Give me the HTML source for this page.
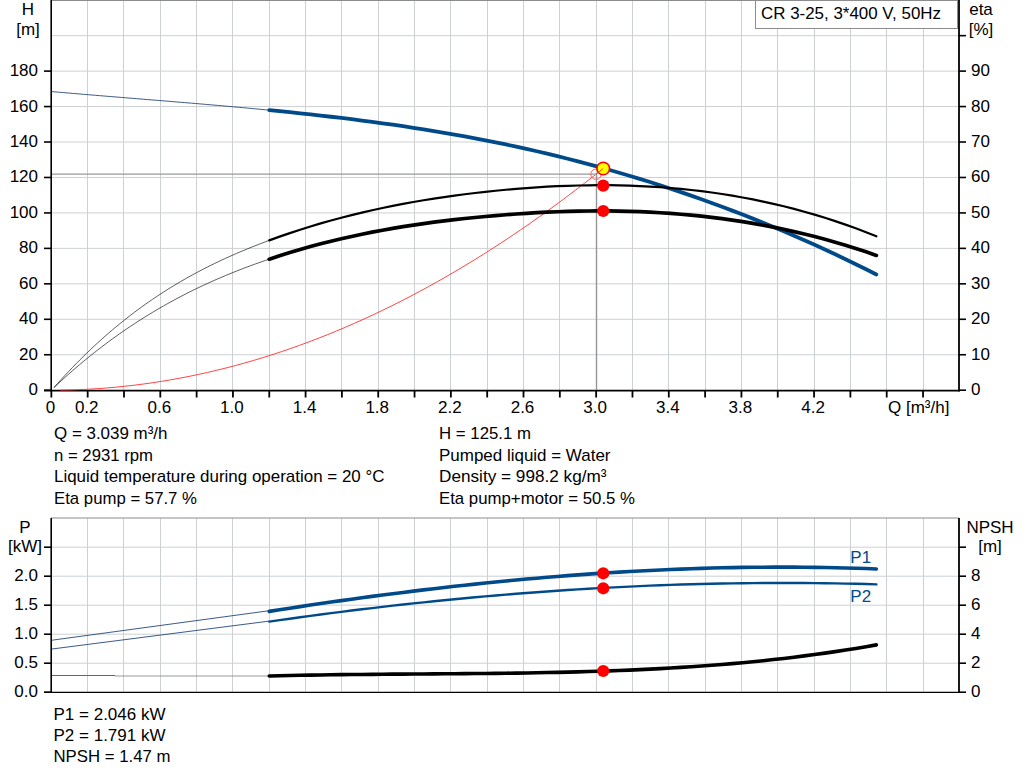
<!DOCTYPE html>
<html><head><meta charset="utf-8"><style>
html,body{margin:0;padding:0;background:#fff;width:1024px;height:781px;overflow:hidden}
svg{display:block;font-family:"Liberation Sans", sans-serif}
</style></head><body>
<svg width="1024" height="781" viewBox="0 0 1024 781">
<line x1="87.5" y1="0" x2="87.5" y2="390" stroke="#cdd1d4" stroke-width="1"/>
<line x1="123.5" y1="0" x2="123.5" y2="390" stroke="#cdd1d4" stroke-width="1"/>
<line x1="160.5" y1="0" x2="160.5" y2="390" stroke="#cdd1d4" stroke-width="1"/>
<line x1="196.5" y1="0" x2="196.5" y2="390" stroke="#cdd1d4" stroke-width="1"/>
<line x1="232.5" y1="0" x2="232.5" y2="390" stroke="#cdd1d4" stroke-width="1"/>
<line x1="269.5" y1="0" x2="269.5" y2="390" stroke="#cdd1d4" stroke-width="1"/>
<line x1="305.5" y1="0" x2="305.5" y2="390" stroke="#cdd1d4" stroke-width="1"/>
<line x1="341.5" y1="0" x2="341.5" y2="390" stroke="#cdd1d4" stroke-width="1"/>
<line x1="378.5" y1="0" x2="378.5" y2="390" stroke="#cdd1d4" stroke-width="1"/>
<line x1="414.5" y1="0" x2="414.5" y2="390" stroke="#cdd1d4" stroke-width="1"/>
<line x1="450.5" y1="0" x2="450.5" y2="390" stroke="#cdd1d4" stroke-width="1"/>
<line x1="487.5" y1="0" x2="487.5" y2="390" stroke="#cdd1d4" stroke-width="1"/>
<line x1="523.5" y1="0" x2="523.5" y2="390" stroke="#cdd1d4" stroke-width="1"/>
<line x1="559.5" y1="0" x2="559.5" y2="390" stroke="#cdd1d4" stroke-width="1"/>
<line x1="596.5" y1="0" x2="596.5" y2="390" stroke="#cdd1d4" stroke-width="1"/>
<line x1="632.5" y1="0" x2="632.5" y2="390" stroke="#cdd1d4" stroke-width="1"/>
<line x1="668.5" y1="0" x2="668.5" y2="390" stroke="#cdd1d4" stroke-width="1"/>
<line x1="705.5" y1="0" x2="705.5" y2="390" stroke="#cdd1d4" stroke-width="1"/>
<line x1="741.5" y1="0" x2="741.5" y2="390" stroke="#cdd1d4" stroke-width="1"/>
<line x1="777.5" y1="0" x2="777.5" y2="390" stroke="#cdd1d4" stroke-width="1"/>
<line x1="814.5" y1="0" x2="814.5" y2="390" stroke="#cdd1d4" stroke-width="1"/>
<line x1="850.5" y1="0" x2="850.5" y2="390" stroke="#cdd1d4" stroke-width="1"/>
<line x1="886.5" y1="0" x2="886.5" y2="390" stroke="#cdd1d4" stroke-width="1"/>
<line x1="923.5" y1="0" x2="923.5" y2="390" stroke="#cdd1d4" stroke-width="1"/>
<line x1="51" y1="354.75" x2="958" y2="354.75" stroke="#cdd1d4" stroke-width="1"/>
<line x1="51" y1="319.29" x2="958" y2="319.29" stroke="#cdd1d4" stroke-width="1"/>
<line x1="51" y1="283.84" x2="958" y2="283.84" stroke="#cdd1d4" stroke-width="1"/>
<line x1="51" y1="248.38" x2="958" y2="248.38" stroke="#cdd1d4" stroke-width="1"/>
<line x1="51" y1="212.93" x2="958" y2="212.93" stroke="#cdd1d4" stroke-width="1"/>
<line x1="51" y1="177.47" x2="958" y2="177.47" stroke="#cdd1d4" stroke-width="1"/>
<line x1="51" y1="142.02" x2="958" y2="142.02" stroke="#cdd1d4" stroke-width="1"/>
<line x1="51" y1="106.56" x2="958" y2="106.56" stroke="#cdd1d4" stroke-width="1"/>
<line x1="51" y1="71.11" x2="958" y2="71.11" stroke="#cdd1d4" stroke-width="1"/>
<line x1="51" y1="35.65" x2="958" y2="35.65" stroke="#cdd1d4" stroke-width="1"/>
<line x1="87.5" y1="518" x2="87.5" y2="692" stroke="#cdd1d4" stroke-width="1"/>
<line x1="123.5" y1="518" x2="123.5" y2="692" stroke="#cdd1d4" stroke-width="1"/>
<line x1="160.5" y1="518" x2="160.5" y2="692" stroke="#cdd1d4" stroke-width="1"/>
<line x1="196.5" y1="518" x2="196.5" y2="692" stroke="#cdd1d4" stroke-width="1"/>
<line x1="232.5" y1="518" x2="232.5" y2="692" stroke="#cdd1d4" stroke-width="1"/>
<line x1="269.5" y1="518" x2="269.5" y2="692" stroke="#cdd1d4" stroke-width="1"/>
<line x1="305.5" y1="518" x2="305.5" y2="692" stroke="#cdd1d4" stroke-width="1"/>
<line x1="341.5" y1="518" x2="341.5" y2="692" stroke="#cdd1d4" stroke-width="1"/>
<line x1="378.5" y1="518" x2="378.5" y2="692" stroke="#cdd1d4" stroke-width="1"/>
<line x1="414.5" y1="518" x2="414.5" y2="692" stroke="#cdd1d4" stroke-width="1"/>
<line x1="450.5" y1="518" x2="450.5" y2="692" stroke="#cdd1d4" stroke-width="1"/>
<line x1="487.5" y1="518" x2="487.5" y2="692" stroke="#cdd1d4" stroke-width="1"/>
<line x1="523.5" y1="518" x2="523.5" y2="692" stroke="#cdd1d4" stroke-width="1"/>
<line x1="559.5" y1="518" x2="559.5" y2="692" stroke="#cdd1d4" stroke-width="1"/>
<line x1="596.5" y1="518" x2="596.5" y2="692" stroke="#cdd1d4" stroke-width="1"/>
<line x1="632.5" y1="518" x2="632.5" y2="692" stroke="#cdd1d4" stroke-width="1"/>
<line x1="668.5" y1="518" x2="668.5" y2="692" stroke="#cdd1d4" stroke-width="1"/>
<line x1="705.5" y1="518" x2="705.5" y2="692" stroke="#cdd1d4" stroke-width="1"/>
<line x1="741.5" y1="518" x2="741.5" y2="692" stroke="#cdd1d4" stroke-width="1"/>
<line x1="777.5" y1="518" x2="777.5" y2="692" stroke="#cdd1d4" stroke-width="1"/>
<line x1="814.5" y1="518" x2="814.5" y2="692" stroke="#cdd1d4" stroke-width="1"/>
<line x1="850.5" y1="518" x2="850.5" y2="692" stroke="#cdd1d4" stroke-width="1"/>
<line x1="886.5" y1="518" x2="886.5" y2="692" stroke="#cdd1d4" stroke-width="1"/>
<line x1="923.5" y1="518" x2="923.5" y2="692" stroke="#cdd1d4" stroke-width="1"/>
<line x1="51" y1="663.20" x2="958" y2="663.20" stroke="#cdd1d4" stroke-width="1"/>
<line x1="51" y1="634.20" x2="958" y2="634.20" stroke="#cdd1d4" stroke-width="1"/>
<line x1="51" y1="605.20" x2="958" y2="605.20" stroke="#cdd1d4" stroke-width="1"/>
<line x1="51" y1="576.20" x2="958" y2="576.20" stroke="#cdd1d4" stroke-width="1"/>
<line x1="51" y1="547.20" x2="958" y2="547.20" stroke="#cdd1d4" stroke-width="1"/>
<line x1="51" y1="0.5" x2="959" y2="0.5" stroke="#8c8c8c" stroke-width="1"/>
<line x1="51.2" y1="0" x2="51.2" y2="391.5" stroke="#000" stroke-width="1.6"/>
<line x1="959" y1="0" x2="959" y2="391.5" stroke="#000" stroke-width="1.8"/>
<line x1="44" y1="390.6" x2="959.8" y2="390.6" stroke="#000" stroke-width="1.8"/>
<line x1="44" y1="390.20" x2="51" y2="390.20" stroke="#000" stroke-width="1.6"/>
<line x1="959" y1="390.20" x2="966" y2="390.20" stroke="#000" stroke-width="1.6"/>
<line x1="44" y1="354.75" x2="51" y2="354.75" stroke="#000" stroke-width="1.6"/>
<line x1="959" y1="354.75" x2="966" y2="354.75" stroke="#000" stroke-width="1.6"/>
<line x1="44" y1="319.29" x2="51" y2="319.29" stroke="#000" stroke-width="1.6"/>
<line x1="959" y1="319.29" x2="966" y2="319.29" stroke="#000" stroke-width="1.6"/>
<line x1="44" y1="283.84" x2="51" y2="283.84" stroke="#000" stroke-width="1.6"/>
<line x1="959" y1="283.84" x2="966" y2="283.84" stroke="#000" stroke-width="1.6"/>
<line x1="44" y1="248.38" x2="51" y2="248.38" stroke="#000" stroke-width="1.6"/>
<line x1="959" y1="248.38" x2="966" y2="248.38" stroke="#000" stroke-width="1.6"/>
<line x1="44" y1="212.93" x2="51" y2="212.93" stroke="#000" stroke-width="1.6"/>
<line x1="959" y1="212.93" x2="966" y2="212.93" stroke="#000" stroke-width="1.6"/>
<line x1="44" y1="177.47" x2="51" y2="177.47" stroke="#000" stroke-width="1.6"/>
<line x1="959" y1="177.47" x2="966" y2="177.47" stroke="#000" stroke-width="1.6"/>
<line x1="44" y1="142.02" x2="51" y2="142.02" stroke="#000" stroke-width="1.6"/>
<line x1="959" y1="142.02" x2="966" y2="142.02" stroke="#000" stroke-width="1.6"/>
<line x1="44" y1="106.56" x2="51" y2="106.56" stroke="#000" stroke-width="1.6"/>
<line x1="959" y1="106.56" x2="966" y2="106.56" stroke="#000" stroke-width="1.6"/>
<line x1="44" y1="71.11" x2="51" y2="71.11" stroke="#000" stroke-width="1.6"/>
<line x1="959" y1="71.11" x2="966" y2="71.11" stroke="#000" stroke-width="1.6"/>
<line x1="959" y1="35.65" x2="966" y2="35.65" stroke="#000" stroke-width="1.6"/>
<line x1="51.35" y1="391" x2="51.35" y2="397.5" stroke="#000" stroke-width="1.8"/>
<line x1="87.67" y1="391" x2="87.67" y2="397.5" stroke="#000" stroke-width="1.8"/>
<line x1="123.99" y1="391" x2="123.99" y2="397.5" stroke="#000" stroke-width="1.8"/>
<line x1="160.31" y1="391" x2="160.31" y2="397.5" stroke="#000" stroke-width="1.8"/>
<line x1="196.63" y1="391" x2="196.63" y2="397.5" stroke="#000" stroke-width="1.8"/>
<line x1="232.95" y1="391" x2="232.95" y2="397.5" stroke="#000" stroke-width="1.8"/>
<line x1="269.27" y1="391" x2="269.27" y2="397.5" stroke="#000" stroke-width="1.8"/>
<line x1="305.59" y1="391" x2="305.59" y2="397.5" stroke="#000" stroke-width="1.8"/>
<line x1="341.91" y1="391" x2="341.91" y2="397.5" stroke="#000" stroke-width="1.8"/>
<line x1="378.23" y1="391" x2="378.23" y2="397.5" stroke="#000" stroke-width="1.8"/>
<line x1="414.55" y1="391" x2="414.55" y2="397.5" stroke="#000" stroke-width="1.8"/>
<line x1="450.87" y1="391" x2="450.87" y2="397.5" stroke="#000" stroke-width="1.8"/>
<line x1="487.19" y1="391" x2="487.19" y2="397.5" stroke="#000" stroke-width="1.8"/>
<line x1="523.51" y1="391" x2="523.51" y2="397.5" stroke="#000" stroke-width="1.8"/>
<line x1="559.83" y1="391" x2="559.83" y2="397.5" stroke="#000" stroke-width="1.8"/>
<line x1="596.15" y1="391" x2="596.15" y2="397.5" stroke="#000" stroke-width="1.8"/>
<line x1="632.47" y1="391" x2="632.47" y2="397.5" stroke="#000" stroke-width="1.8"/>
<line x1="668.79" y1="391" x2="668.79" y2="397.5" stroke="#000" stroke-width="1.8"/>
<line x1="705.11" y1="391" x2="705.11" y2="397.5" stroke="#000" stroke-width="1.8"/>
<line x1="741.43" y1="391" x2="741.43" y2="397.5" stroke="#000" stroke-width="1.8"/>
<line x1="777.75" y1="391" x2="777.75" y2="397.5" stroke="#000" stroke-width="1.8"/>
<line x1="814.07" y1="391" x2="814.07" y2="397.5" stroke="#000" stroke-width="1.8"/>
<line x1="850.39" y1="391" x2="850.39" y2="397.5" stroke="#000" stroke-width="1.8"/>
<line x1="886.71" y1="391" x2="886.71" y2="397.5" stroke="#000" stroke-width="1.8"/>
<line x1="923.03" y1="391" x2="923.03" y2="397.5" stroke="#000" stroke-width="1.8"/>
<line x1="51" y1="518" x2="959" y2="518" stroke="#8c8c8c" stroke-width="1"/>
<line x1="51.2" y1="518" x2="51.2" y2="692.5" stroke="#000" stroke-width="1.6"/>
<line x1="959" y1="518" x2="959" y2="692.5" stroke="#000" stroke-width="1.8"/>
<line x1="44" y1="692.4" x2="959.8" y2="692.4" stroke="#000" stroke-width="1.4"/>
<line x1="44" y1="692.20" x2="51" y2="692.20" stroke="#000" stroke-width="1.6"/>
<line x1="959" y1="692.20" x2="966" y2="692.20" stroke="#000" stroke-width="1.6"/>
<line x1="44" y1="663.20" x2="51" y2="663.20" stroke="#000" stroke-width="1.6"/>
<line x1="959" y1="663.20" x2="966" y2="663.20" stroke="#000" stroke-width="1.6"/>
<line x1="44" y1="634.20" x2="51" y2="634.20" stroke="#000" stroke-width="1.6"/>
<line x1="959" y1="634.20" x2="966" y2="634.20" stroke="#000" stroke-width="1.6"/>
<line x1="44" y1="605.20" x2="51" y2="605.20" stroke="#000" stroke-width="1.6"/>
<line x1="959" y1="605.20" x2="966" y2="605.20" stroke="#000" stroke-width="1.6"/>
<line x1="44" y1="576.20" x2="51" y2="576.20" stroke="#000" stroke-width="1.6"/>
<line x1="959" y1="576.20" x2="966" y2="576.20" stroke="#000" stroke-width="1.6"/>
<line x1="44" y1="547.20" x2="51" y2="547.20" stroke="#000" stroke-width="1.6"/>
<line x1="959" y1="547.20" x2="966" y2="547.20" stroke="#000" stroke-width="1.6"/>
<path d="M60.43,390.14 L69.63,389.96 L78.83,389.65 L88.03,389.22 L97.23,388.67 L106.43,387.99 L115.63,387.19 L124.83,386.27 L134.03,385.22 L143.23,384.05 L152.43,382.76 L161.63,381.34 L170.83,379.81 L180.03,378.14 L189.23,376.36 L198.43,374.45 L207.63,372.42 L216.83,370.26 L226.03,367.98 L235.23,365.58 L244.43,363.05 L253.63,360.41 L262.83,357.63 L272.03,354.74 L281.23,351.72 L290.43,348.58 L299.63,345.31 L308.83,341.93 L318.03,338.41 L327.23,334.78 L336.43,331.02 L345.63,327.14 L354.83,323.14 L364.03,319.01 L373.23,314.76 L382.43,310.38 L391.63,305.89 L400.83,301.27 L410.03,296.52 L419.23,291.65 L428.43,286.66 L437.63,281.55 L446.83,276.31 L456.03,270.95 L465.23,265.47 L474.43,259.86 L483.63,254.13 L492.83,248.28 L502.03,242.30 L511.23,236.20 L520.43,229.98 L529.63,223.63 L538.83,217.16 L548.03,210.57 L557.23,203.85 L566.43,197.01 L575.63,190.05 L584.83,182.97 L594.03,175.76 L603.23,168.42" fill="none" stroke="#ff3030" stroke-width="0.9"/>
<line x1="52" y1="174.2" x2="596" y2="174.2" stroke="#9a9a9a" stroke-width="1.3"/>
<line x1="596.5" y1="174" x2="596.5" y2="390" stroke="#959595" stroke-width="1.4"/>
<path d="M51.35,91.54 L55.04,91.87 L58.74,92.19 L62.43,92.51 L66.12,92.83 L69.82,93.15 L73.51,93.46 L77.20,93.78 L80.90,94.09 L84.59,94.40 L88.29,94.71 L91.98,95.02 L95.67,95.32 L99.37,95.63 L103.06,95.93 L106.75,96.24 L110.45,96.54 L114.14,96.84 L117.83,97.14 L121.53,97.44 L125.22,97.74 L128.91,98.04 L132.61,98.34 L136.30,98.64 L140.00,98.94 L143.69,99.24 L147.38,99.55 L151.08,99.85 L154.77,100.15 L158.46,100.45 L162.16,100.75 L165.85,101.05 L169.54,101.35 L173.24,101.66 L176.93,101.96 L180.62,102.27 L184.32,102.58 L188.01,102.88 L191.71,103.19 L195.40,103.50 L199.09,103.82 L202.79,104.13 L206.48,104.45 L210.17,104.76 L213.87,105.08 L217.56,105.40 L221.25,105.73 L224.95,106.05 L228.64,106.38 L232.33,106.71 L236.03,107.04 L239.72,107.38 L243.42,107.72 L247.11,108.06 L250.80,108.40 L254.50,108.75 L258.19,109.09 L261.88,109.45 L265.58,109.80 L269.27,110.16" fill="none" stroke="#1a3f73" stroke-width="1" opacity="0.85"/>
<path d="M269.27,110.16 L279.56,111.18 L289.85,112.23 L300.14,113.30 L310.43,114.41 L320.72,115.56 L331.01,116.74 L341.30,117.96 L351.59,119.22 L361.88,120.53 L372.17,121.88 L382.46,123.27 L392.75,124.72 L403.04,126.21 L413.32,127.77 L423.61,129.37 L433.90,131.03 L444.19,132.76 L454.48,134.54 L464.77,136.39 L475.06,138.31 L485.35,140.29 L495.64,142.34 L505.93,144.46 L516.22,146.66 L526.51,148.93 L536.80,151.27 L547.09,153.68 L557.38,156.17 L567.67,158.73 L577.96,161.37 L588.25,164.09 L598.54,166.89 L608.83,169.76 L619.12,172.71 L629.41,175.75 L639.70,178.86 L649.99,182.05 L660.28,185.33 L670.57,188.69 L680.86,192.13 L691.15,195.66 L701.43,199.27 L711.72,202.97 L722.01,206.76 L732.30,210.63 L742.59,214.59 L752.88,218.64 L763.17,222.78 L773.46,227.01 L783.75,231.33 L794.04,235.74 L804.33,240.24 L814.62,244.84 L824.91,249.53 L835.20,254.32 L845.49,259.20 L855.78,264.18 L866.07,269.26 L876.36,274.43" fill="none" stroke="#004a8a" stroke-width="3.8" stroke-linecap="round"/>
<path d="M54.07,387.48 L57.72,383.37 L61.37,379.33 L65.02,375.35 L68.66,371.46 L72.31,367.63 L75.96,363.87 L79.61,360.17 L83.25,356.55 L86.90,352.99 L90.55,349.50 L94.20,346.07 L97.84,342.71 L101.49,339.41 L105.14,336.17 L108.78,332.99 L112.43,329.87 L116.08,326.82 L119.73,323.82 L123.37,320.87 L127.02,317.99 L130.67,315.16 L134.32,312.39 L137.96,309.67 L141.61,307.00 L145.26,304.39 L148.91,301.82 L152.55,299.31 L156.20,296.85 L159.85,294.44 L163.50,292.07 L167.14,289.75 L170.79,287.48 L174.44,285.25 L178.09,283.07 L181.73,280.93 L185.38,278.84 L189.03,276.78 L192.67,274.77 L196.32,272.80 L199.97,270.86 L203.62,268.97 L207.26,267.11 L210.91,265.28 L214.56,263.50 L218.21,261.75 L221.85,260.03 L225.50,258.34 L229.15,256.69 L232.80,255.07 L236.44,253.48 L240.09,251.91 L243.74,250.38 L247.39,248.87 L251.03,247.40 L254.68,245.94 L258.33,244.51 L261.98,243.11 L265.62,241.73 L269.27,240.37" fill="none" stroke="#000" stroke-width="0.9" opacity="0.7"/>
<path d="M269.27,240.37 L279.56,236.65 L289.85,233.10 L300.14,229.71 L310.43,226.48 L320.72,223.41 L331.01,220.48 L341.30,217.71 L351.59,215.07 L361.88,212.57 L372.17,210.21 L382.46,207.97 L392.75,205.86 L403.04,203.87 L413.32,202.00 L423.61,200.25 L433.90,198.60 L444.19,197.05 L454.48,195.61 L464.77,194.27 L475.06,193.01 L485.35,191.85 L495.64,190.77 L505.93,189.77 L516.22,188.87 L526.51,188.06 L536.80,187.34 L547.09,186.72 L557.38,186.20 L567.67,185.79 L577.96,185.48 L588.25,185.28 L598.54,185.19 L608.83,185.22 L619.12,185.37 L629.41,185.64 L639.70,186.04 L649.99,186.56 L660.28,187.21 L670.57,188.00 L680.86,188.92 L691.15,189.98 L701.43,191.18 L711.72,192.53 L722.01,194.03 L732.30,195.68 L742.59,197.48 L752.88,199.44 L763.17,201.56 L773.46,203.84 L783.75,206.29 L794.04,208.90 L804.33,211.69 L814.62,214.66 L824.91,217.80 L835.20,221.12 L845.49,224.62 L855.78,228.31 L866.07,232.20 L876.36,236.27" fill="none" stroke="#000" stroke-width="2.2" stroke-linecap="round"/>
<path d="M54.07,387.44 L57.72,384.03 L61.37,380.67 L65.02,377.36 L68.66,374.11 L72.31,370.90 L75.96,367.75 L79.61,364.65 L83.25,361.60 L86.90,358.60 L90.55,355.64 L94.20,352.74 L97.84,349.88 L101.49,347.07 L105.14,344.31 L108.78,341.59 L112.43,338.91 L116.08,336.29 L119.73,333.70 L123.37,331.16 L127.02,328.66 L130.67,326.21 L134.32,323.80 L137.96,321.43 L141.61,319.10 L145.26,316.81 L148.91,314.56 L152.55,312.35 L156.20,310.18 L159.85,308.04 L163.50,305.95 L167.14,303.89 L170.79,301.87 L174.44,299.88 L178.09,297.93 L181.73,296.02 L185.38,294.14 L189.03,292.29 L192.67,290.48 L196.32,288.70 L199.97,286.95 L203.62,285.23 L207.26,283.55 L210.91,281.89 L214.56,280.27 L218.21,278.68 L221.85,277.11 L225.50,275.57 L229.15,274.06 L232.80,272.58 L236.44,271.12 L240.09,269.69 L243.74,268.29 L247.39,266.91 L251.03,265.56 L254.68,264.23 L258.33,262.92 L261.98,261.64 L265.62,260.38 L269.27,259.14" fill="none" stroke="#000" stroke-width="0.9" opacity="0.7"/>
<path d="M269.27,259.14 L279.56,255.76 L289.85,252.54 L300.14,249.48 L310.43,246.58 L320.72,243.83 L331.01,241.23 L341.30,238.76 L351.59,236.44 L361.88,234.24 L372.17,232.18 L382.46,230.23 L392.75,228.40 L403.04,226.69 L413.32,225.09 L423.61,223.58 L433.90,222.18 L444.19,220.87 L454.48,219.66 L464.77,218.52 L475.06,217.47 L485.35,216.49 L495.64,215.59 L505.93,214.75 L516.22,213.99 L526.51,213.31 L536.80,212.71 L547.09,212.19 L557.38,211.76 L567.67,211.42 L577.96,211.16 L588.25,211.00 L598.54,210.94 L608.83,210.97 L619.12,211.11 L629.41,211.35 L639.70,211.70 L649.99,212.16 L660.28,212.73 L670.57,213.41 L680.86,214.22 L691.15,215.14 L701.43,216.18 L711.72,217.36 L722.01,218.66 L732.30,220.09 L742.59,221.65 L752.88,223.35 L763.17,225.20 L773.46,227.18 L783.75,229.30 L794.04,231.58 L804.33,234.00 L814.62,236.58 L824.91,239.31 L835.20,242.20 L845.49,245.25 L855.78,248.46 L866.07,251.84 L876.36,255.39" fill="none" stroke="#000" stroke-width="3.7" stroke-linecap="round"/>
<line x1="52" y1="640.2" x2="269.27" y2="610.7" stroke="#1a3f73" stroke-width="1" opacity="0.85"/>
<line x1="52" y1="649" x2="269.27" y2="621.1" stroke="#1a3f73" stroke-width="1" opacity="0.85"/>
<line x1="52" y1="675.5" x2="115" y2="675.5" stroke="#666" stroke-width="1"/>
<line x1="115" y1="676" x2="269.27" y2="676" stroke="#999" stroke-width="1.2"/>
<path d="M269.27,611.37 L279.56,609.76 L289.85,608.18 L300.14,606.62 L310.43,605.09 L320.72,603.58 L331.01,602.09 L341.30,600.63 L351.59,599.19 L361.88,597.78 L372.17,596.40 L382.46,595.05 L392.75,593.72 L403.04,592.42 L413.32,591.14 L423.61,589.90 L433.90,588.68 L444.19,587.49 L454.48,586.33 L464.77,585.20 L475.06,584.11 L485.35,583.04 L495.64,582.00 L505.93,581.00 L516.22,580.02 L526.51,579.08 L536.80,578.17 L547.09,577.30 L557.38,576.45 L567.67,575.65 L577.96,574.87 L588.25,574.13 L598.54,573.42 L608.83,572.75 L619.12,572.12 L629.41,571.52 L639.70,570.96 L649.99,570.43 L660.28,569.94 L670.57,569.49 L680.86,569.08 L691.15,568.70 L701.43,568.37 L711.72,568.07 L722.01,567.81 L732.30,567.59 L742.59,567.42 L752.88,567.28 L763.17,567.18 L773.46,567.13 L783.75,567.12 L794.04,567.15 L804.33,567.22 L814.62,567.33 L824.91,567.49 L835.20,567.69 L845.49,567.94 L855.78,568.23 L866.07,568.56 L876.36,568.94" fill="none" stroke="#004a8a" stroke-width="3.6" stroke-linecap="round"/>
<path d="M269.27,621.61 L279.56,620.13 L289.85,618.69 L300.14,617.27 L310.43,615.87 L320.72,614.50 L331.01,613.16 L341.30,611.85 L351.59,610.56 L361.88,609.30 L372.17,608.07 L382.46,606.86 L392.75,605.68 L403.04,604.53 L413.32,603.41 L423.61,602.32 L433.90,601.25 L444.19,600.21 L454.48,599.20 L464.77,598.22 L475.06,597.27 L485.35,596.35 L495.64,595.46 L505.93,594.60 L516.22,593.76 L526.51,592.96 L536.80,592.18 L547.09,591.44 L557.38,590.72 L567.67,590.04 L577.96,589.39 L588.25,588.76 L598.54,588.17 L608.83,587.61 L619.12,587.08 L629.41,586.58 L639.70,586.11 L649.99,585.67 L660.28,585.27 L670.57,584.90 L680.86,584.56 L691.15,584.25 L701.43,583.97 L711.72,583.73 L722.01,583.51 L732.30,583.34 L742.59,583.19 L752.88,583.08 L763.17,583.00 L773.46,582.95 L783.75,582.94 L794.04,582.96 L804.33,583.02 L814.62,583.10 L824.91,583.23 L835.20,583.39 L845.49,583.58 L855.78,583.80 L866.07,584.07 L876.36,584.36" fill="none" stroke="#004a8a" stroke-width="2.4" stroke-linecap="round"/>
<path d="M269.27,676.04 L279.56,675.78 L289.85,675.54 L300.14,675.32 L310.43,675.13 L320.72,674.95 L331.01,674.80 L341.30,674.66 L351.59,674.54 L361.88,674.43 L372.17,674.33 L382.46,674.24 L392.75,674.15 L403.04,674.08 L413.32,674.00 L423.61,673.93 L433.90,673.86 L444.19,673.79 L454.48,673.71 L464.77,673.63 L475.06,673.54 L485.35,673.44 L495.64,673.34 L505.93,673.21 L516.22,673.08 L526.51,672.93 L536.80,672.75 L547.09,672.56 L557.38,672.35 L567.67,672.11 L577.96,671.85 L588.25,671.56 L598.54,671.24 L608.83,670.89 L619.12,670.51 L629.41,670.10 L639.70,669.64 L649.99,669.15 L660.28,668.62 L670.57,668.04 L680.86,667.42 L691.15,666.76 L701.43,666.05 L711.72,665.29 L722.01,664.47 L732.30,663.61 L742.59,662.69 L752.88,661.71 L763.17,660.67 L773.46,659.58 L783.75,658.42 L794.04,657.20 L804.33,655.91 L814.62,654.55 L824.91,653.12 L835.20,651.63 L845.49,650.06 L855.78,648.41 L866.07,646.69 L876.36,644.88" fill="none" stroke="#000" stroke-width="3.6" stroke-linecap="round"/>
<circle cx="596" cy="174.2" r="5.2" fill="none" stroke="#ff5050" stroke-width="0.9"/>
<circle cx="603.23" cy="168.5" r="6.3" fill="#ffff00" stroke="#ff0000" stroke-width="1.6"/>
<line x1="596" y1="174" x2="603.23" y2="168.5" stroke="#ff3030" stroke-width="0.9"/>
<circle cx="603.23" cy="185.6" r="6.1" fill="#ff0000"/>
<circle cx="603.23" cy="211.0" r="6.1" fill="#ff0000"/>
<circle cx="603.23" cy="573.3" r="6.1" fill="#ff0000"/>
<circle cx="603.23" cy="588.3" r="6.1" fill="#ff0000"/>
<circle cx="603.23" cy="671.0" r="6.1" fill="#ff0000"/>
<rect x="755.5" y="0.5" width="202" height="28" fill="#fff" stroke="#8c8c8c" stroke-width="1"/>
<text x="761" y="19" text-anchor="start" fill="#000" font-size="17" textLength="180" lengthAdjust="spacingAndGlyphs">CR 3-25, 3*400 V, 50Hz</text>
<text x="28" y="15" text-anchor="middle" fill="#000" font-size="17">H</text>
<text x="28" y="35" text-anchor="middle" fill="#000" font-size="17">[m]</text>
<text x="981" y="15" text-anchor="middle" fill="#000" font-size="17">eta</text>
<text x="981" y="35" text-anchor="middle" fill="#000" font-size="17">[%]</text>
<text x="38" y="395.2" text-anchor="end" fill="#000" font-size="17">0</text>
<text x="971" y="395.2" text-anchor="start" fill="#000" font-size="17">0</text>
<text x="38" y="359.74545454545455" text-anchor="end" fill="#000" font-size="17">20</text>
<text x="971" y="359.74545454545455" text-anchor="start" fill="#000" font-size="17">10</text>
<text x="38" y="324.29090909090905" text-anchor="end" fill="#000" font-size="17">40</text>
<text x="971" y="324.29090909090905" text-anchor="start" fill="#000" font-size="17">20</text>
<text x="38" y="288.8363636363636" text-anchor="end" fill="#000" font-size="17">60</text>
<text x="971" y="288.8363636363636" text-anchor="start" fill="#000" font-size="17">30</text>
<text x="38" y="253.38181818181818" text-anchor="end" fill="#000" font-size="17">80</text>
<text x="971" y="253.38181818181818" text-anchor="start" fill="#000" font-size="17">40</text>
<text x="38" y="217.9272727272727" text-anchor="end" fill="#000" font-size="17">100</text>
<text x="971" y="217.9272727272727" text-anchor="start" fill="#000" font-size="17">50</text>
<text x="38" y="182.47272727272727" text-anchor="end" fill="#000" font-size="17">120</text>
<text x="971" y="182.47272727272727" text-anchor="start" fill="#000" font-size="17">60</text>
<text x="38" y="147.0181818181818" text-anchor="end" fill="#000" font-size="17">140</text>
<text x="971" y="147.0181818181818" text-anchor="start" fill="#000" font-size="17">70</text>
<text x="38" y="111.56363636363636" text-anchor="end" fill="#000" font-size="17">160</text>
<text x="971" y="111.56363636363636" text-anchor="start" fill="#000" font-size="17">80</text>
<text x="38" y="76.10909090909092" text-anchor="end" fill="#000" font-size="17">180</text>
<text x="971" y="76.10909090909092" text-anchor="start" fill="#000" font-size="17">90</text>
<text x="50.4" y="412.5" text-anchor="middle" fill="#000" font-size="17">0</text>
<text x="86.7" y="412.5" text-anchor="middle" fill="#000" font-size="17">0.2</text>
<text x="159.3" y="412.5" text-anchor="middle" fill="#000" font-size="17">0.6</text>
<text x="231.9" y="412.5" text-anchor="middle" fill="#000" font-size="17">1.0</text>
<text x="304.6" y="412.5" text-anchor="middle" fill="#000" font-size="17">1.4</text>
<text x="377.2" y="412.5" text-anchor="middle" fill="#000" font-size="17">1.8</text>
<text x="449.9" y="412.5" text-anchor="middle" fill="#000" font-size="17">2.2</text>
<text x="522.5" y="412.5" text-anchor="middle" fill="#000" font-size="17">2.6</text>
<text x="595.1" y="412.5" text-anchor="middle" fill="#000" font-size="17">3.0</text>
<text x="667.8" y="412.5" text-anchor="middle" fill="#000" font-size="17">3.4</text>
<text x="740.4" y="412.5" text-anchor="middle" fill="#000" font-size="17">3.8</text>
<text x="813.1" y="412.5" text-anchor="middle" fill="#000" font-size="17">4.2</text>
<text x="888" y="412.5" text-anchor="start" fill="#000" font-size="17">Q [m³/h]</text>
<text x="54" y="439" text-anchor="start" fill="#000" font-size="17" textLength="113.5" lengthAdjust="spacingAndGlyphs">Q = 3.039 m³/h</text>
<text x="54" y="460.5" text-anchor="start" fill="#000" font-size="17" textLength="99" lengthAdjust="spacingAndGlyphs">n = 2931 rpm</text>
<text x="54" y="482" text-anchor="start" fill="#000" font-size="17" textLength="330.5" lengthAdjust="spacingAndGlyphs">Liquid temperature during operation = 20 °C</text>
<text x="54" y="503.5" text-anchor="start" fill="#000" font-size="17" textLength="143" lengthAdjust="spacingAndGlyphs">Eta pump = 57.7 %</text>
<text x="439" y="439" text-anchor="start" fill="#000" font-size="17" textLength="92" lengthAdjust="spacingAndGlyphs">H = 125.1 m</text>
<text x="439" y="460.5" text-anchor="start" fill="#000" font-size="17" textLength="171.5" lengthAdjust="spacingAndGlyphs">Pumped liquid = Water</text>
<text x="439" y="482" text-anchor="start" fill="#000" font-size="17" textLength="167.5" lengthAdjust="spacingAndGlyphs">Density = 998.2 kg/m³</text>
<text x="439" y="503.5" text-anchor="start" fill="#000" font-size="17" textLength="196" lengthAdjust="spacingAndGlyphs">Eta pump+motor = 50.5 %</text>
<text x="25" y="533" text-anchor="middle" fill="#000" font-size="17">P</text>
<text x="25" y="552" text-anchor="middle" fill="#000" font-size="17">[kW]</text>
<text x="990" y="533" text-anchor="middle" fill="#000" font-size="17">NPSH</text>
<text x="990" y="552" text-anchor="middle" fill="#000" font-size="17">[m]</text>
<text x="38" y="696.8000000000001" text-anchor="end" fill="#000" font-size="17">0.0</text>
<text x="38" y="667.8000000000001" text-anchor="end" fill="#000" font-size="17">0.5</text>
<text x="38" y="638.8000000000001" text-anchor="end" fill="#000" font-size="17">1.0</text>
<text x="38" y="609.8000000000001" text-anchor="end" fill="#000" font-size="17">1.5</text>
<text x="38" y="580.8000000000001" text-anchor="end" fill="#000" font-size="17">2.0</text>
<text x="971" y="696.8000000000001" text-anchor="start" fill="#000" font-size="17">0</text>
<text x="971" y="667.8000000000001" text-anchor="start" fill="#000" font-size="17">2</text>
<text x="971" y="638.8000000000001" text-anchor="start" fill="#000" font-size="17">4</text>
<text x="971" y="609.8000000000001" text-anchor="start" fill="#000" font-size="17">6</text>
<text x="971" y="580.8000000000001" text-anchor="start" fill="#000" font-size="17">8</text>
<text x="850.3" y="562.8" text-anchor="start" fill="#004a8a" font-size="17">P1</text>
<text x="850.3" y="602.3" text-anchor="start" fill="#004a8a" font-size="17">P2</text>
<text x="53.5" y="719.5" text-anchor="start" fill="#000" font-size="17" textLength="112" lengthAdjust="spacingAndGlyphs">P1 = 2.046 kW</text>
<text x="53.5" y="741" text-anchor="start" fill="#000" font-size="17" textLength="112" lengthAdjust="spacingAndGlyphs">P2 = 1.791 kW</text>
<text x="53.5" y="762" text-anchor="start" fill="#000" font-size="17" textLength="117" lengthAdjust="spacingAndGlyphs">NPSH = 1.47 m</text>
</svg>
</body></html>
